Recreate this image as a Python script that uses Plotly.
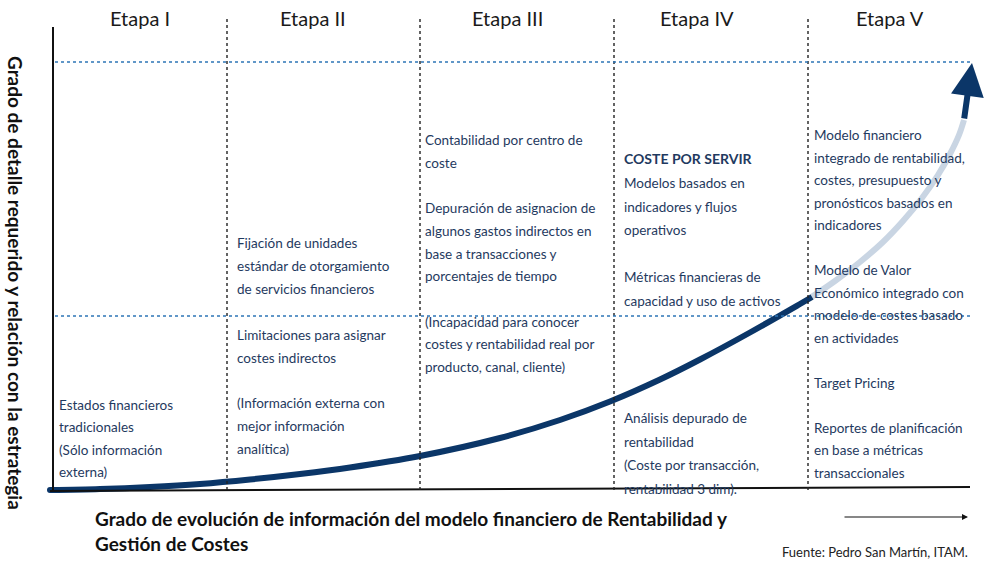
import plotly.graph_objects as go

# ---------------- data ----------------
stage_titles = ["Etapa I", "Etapa II", "Etapa III", "Etapa IV", "Etapa V"]
stage_centers = [140, 313, 507, 697, 890]
stage_dividers = [227, 420, 614, 808]

stage1_lines = ["Estados financieros", "tradicionales", "(Sólo información", "externa)"]
stage2_lines = ["Fijación de unidades", "estándar de otorgamiento", "de servicios financieros", "",
                "Limitaciones para asignar", "costes indirectos", "",
                "(Información externa con", "mejor información", "analítica)"]
stage3_lines = ["Contabilidad por centro de", "coste", "",
                "Depuración de asignacion de", "algunos gastos indirectos en",
                "base a transacciones y", "porcentajes de tiempo", "",
                "(Incapacidad para conocer", "costes y rentabilidad real por",
                "producto, canal, cliente)"]
stage4_header = "COSTE POR SERVIR"
stage4_lines = ["Modelos basados en", "indicadores y flujos", "operativos", "",
                "Métricas financieras de", "capacidad y uso de activos", "", "", "", "",
                "Análisis depurado de", "rentabilidad", "(Coste por transacción,",
                "rentabilidad 3 dim)."]
stage5_lines = ["Modelo financiero", "integrado de rentabilidad,", "costes, presupuesto y",
                "pronósticos basados en", "indicadores", "",
                "Modelo de Valor", "Económico integrado con", "modelo de costes basado",
                "en actividades", "", "Target Pricing", "",
                "Reportes de planificación", "en base a métricas", "transaccionales"]

# evolution curve (dark part, light part, arrow tip)
dark_curve_x = [50, 100, 150, 200, 250, 300, 350, 420, 500, 560, 610, 660, 700, 750, 800, 812]
dark_curve_y = [490, 489, 487, 484, 479.5, 474, 467.5, 456, 438, 420, 401.5, 379.5, 359.5, 332.5, 304, 297]
light_curve_x = [810, 835, 860, 883, 903, 922, 938, 950, 959, 964]
light_curve_y = [298, 281, 262, 242, 221, 198, 175, 154, 135, 120]
arrow_x = [964, 972]
arrow_y = [120, 63]

y_title = "Grado de detalle requerido y relación con la estrategia"
x_title = "Grado de evolución de información del modelo financiero de Rentabilidad y<br>Gestión de Costes"
source = "Fuente: Pedro San Martín, ITAM."

# ---------------- styles ----------------
W, H = 991, 563
NAVY = "#0B3668"
LIGHT = "#C9D5E3"
TEXT = "#1F3A60"
DOT_BLUE = "#2E75B6"
FONT = "Lato, Carlito, Calibri, sans-serif"

fig = go.Figure()

# curve
fig.add_trace(go.Scatter(x=light_curve_x, y=light_curve_y, mode="lines",
                         line=dict(color=LIGHT, width=6, shape="spline", smoothing=1.0),
                         hoverinfo="skip", showlegend=False))
fig.add_trace(go.Scatter(x=dark_curve_x, y=dark_curve_y, mode="lines",
                         line=dict(color=NAVY, width=6, shape="spline", smoothing=1.0),
                         hoverinfo="skip", showlegend=False))
fig.add_trace(go.Scatter(x=[dark_curve_x[0]], y=[dark_curve_y[0]], mode="markers",
                         marker=dict(color=NAVY, size=6),
                         hoverinfo="skip", showlegend=False))

shapes = []
# axes
shapes.append(dict(type="line", x0=53, y0=27, x1=53, y1=491,
                   line=dict(color="#111", width=2)))
shapes.append(dict(type="line", x0=50, y0=491, x1=970, y1=487,
                   line=dict(color="#111", width=2)))
# vertical stage dividers
for xd in stage_dividers:
    shapes.append(dict(type="line", x0=xd, y0=19, x1=xd, y1=490,
                       line=dict(color="#222", width=1.4, dash="dot")))
# horizontal blue dotted guides
for yg in [62, 316]:
    shapes.append(dict(type="line", x0=55, y0=yg, x1=971, y1=yg,
                       line=dict(color=DOT_BLUE, width=1.4, dash="dot")))

annotations = []
# stage titles
for t, cx in zip(stage_titles, stage_centers):
    annotations.append(dict(x=cx, y=18, text=t, showarrow=False, xanchor="center",
                            yanchor="middle", font=dict(family=FONT, size=20, color="#1a1a1a")))


def add_block(lines, x0, y0, step):
    for i, ln in enumerate(lines):
        if not ln:
            continue
        annotations.append(dict(x=x0, y=y0 + i * step, text=ln, showarrow=False,
                                xanchor="left", yanchor="middle",
                                font=dict(family=FONT, size=13.5, color=TEXT)))


add_block(stage1_lines, 57, 405, 22.4)
add_block(stage2_lines, 235, 243, 22.9)
add_block(stage3_lines, 423, 140, 22.7)
annotations.append(dict(x=622, y=158, text="<b>" + stage4_header + "</b>", showarrow=False,
                        xanchor="left", yanchor="middle",
                        font=dict(family=FONT, size=14, color=TEXT)))
add_block(stage4_lines, 622, 183, 23.5)
add_block(stage5_lines, 812, 135, 22.5)

# arrow head of the curve
annotations.append(dict(x=arrow_x[1], y=arrow_y[1], ax=arrow_x[0], ay=arrow_y[0],
                        xref="x", yref="y", axref="x", ayref="y", text="",
                        showarrow=True, arrowhead=2, arrowsize=1.1, arrowwidth=6,
                        arrowcolor=NAVY))

# axis titles
annotations.append(dict(x=16, y=283, text="<b>" + y_title + "</b>", textangle=90,
                        showarrow=False, xanchor="center", yanchor="middle",
                        font=dict(family=FONT, size=19, color="#111")))
annotations.append(dict(x=93, y=531, text="<b>" + x_title + "</b>", showarrow=False,
                        xanchor="left", yanchor="middle", align="left",
                        font=dict(family=FONT, size=19, color="#111")))
# x arrow
annotations.append(dict(x=968, y=517, ax=843, ay=517, xref="x", yref="y",
                        axref="x", ayref="y", text="", showarrow=True,
                        arrowhead=2, arrowsize=1, arrowwidth=1.2, arrowcolor="#111"))
# source
annotations.append(dict(x=970, y=552, text=source, showarrow=False, xanchor="right",
                        yanchor="middle", font=dict(family=FONT, size=13, color="#222")))

fig.update_layout(
    width=W, height=H, margin=dict(l=0, r=0, t=0, b=0),
    paper_bgcolor="white", plot_bgcolor="white",
    xaxis=dict(range=[0, W], visible=False, fixedrange=True),
    yaxis=dict(range=[H, 0], visible=False, fixedrange=True),
    shapes=shapes, annotations=annotations, showlegend=False,
)

fig.write_html("out.html", config={"displayModeBar": False},
               post_script="document.body.style.margin='0px';document.body.style.overflow='hidden';")
